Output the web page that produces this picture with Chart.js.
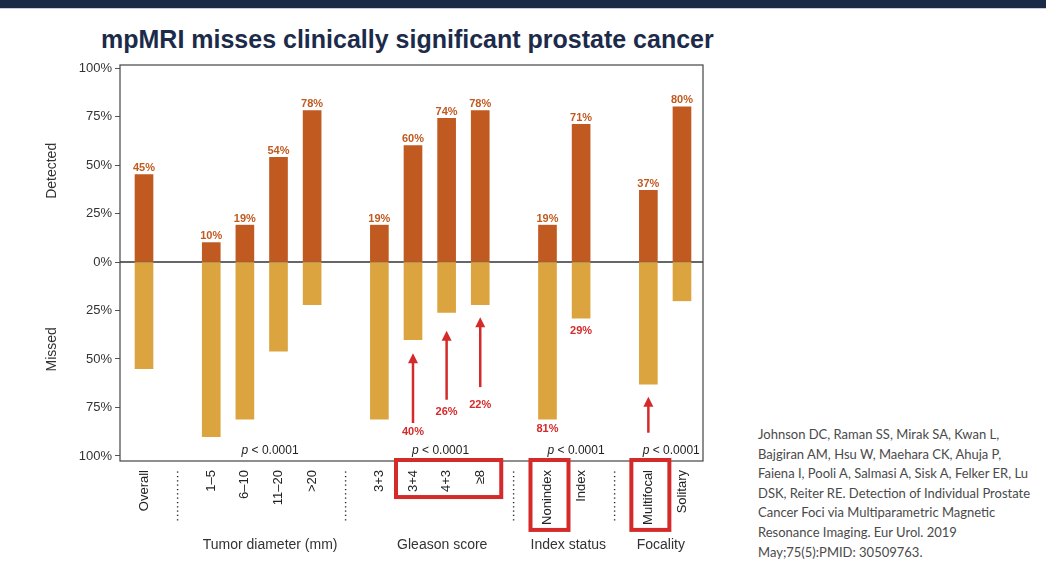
<!DOCTYPE html>
<html>
<head>
<meta charset="utf-8">
<script src="https://cdn.jsdelivr.net/npm/chart.js@4/dist/chart.umd.min.js"></script>
<style>
  html, body { margin: 0; padding: 0; background: #fff; }
  body { width: 1046px; height: 566px; position: relative; overflow: hidden; font-family: "Liberation Sans", Arial, sans-serif; }
  .topbar { position: absolute; left: 0; top: 0; width: 1046px; height: 8px; background: #1b2a47; border-bottom: 1px solid #c9ced8; }
  h1 { position: absolute; left: 101px; top: 25px; margin: 0; font-size: 25px; font-weight: bold; color: #1c2b4a; white-space: nowrap; }
  .wrap { position: absolute; left: 0; top: 0; width: 720px; height: 566px; }
  .ref { position: absolute; left: 758px; top: 425px; font-family: Lato, "Open Sans", sans-serif; font-size: 13px; line-height: 19.6px; color: #4a4a4a; white-space: nowrap; }
</style>
</head>
<body>
<div class="topbar"></div>
<h1>mpMRI misses clinically significant prostate cancer</h1>
<div class="wrap"><canvas id="chart"></canvas></div>
<div class="ref">
Johnson DC, Raman SS, Mirak SA, Kwan L,<br>
Bajgiran AM, Hsu W, Maehara CK, Ahuja P,<br>
Faiena I, Pooli A, Salmasi A, Sisk A, Felker ER, Lu<br>
DSK, Reiter RE. Detection of Individual Prostate<br>
Cancer Foci via Multiparametric Magnetic<br>
Resonance Imaging. Eur Urol. 2019<br>
May;75(5):PMID: 30509763.
</div>
<script>
// empty strings are the dotted separators between groups
const categories = ['Overall', '', '1–5', '6–10', '11–20', '>20', '', '3+3', '3+4', '4+3', '≥8', '', 'Nonindex', 'Index', '', 'Multifocal', 'Solitary'];
const detected = [45, null, 10, 19, 54, 78, null, 19, 60, 74, 78, null, 19, 71, null, 37, 80];
const missed   = [55, null, 90, 81, 46, 22, null, 81, 40, 26, 22, null, 81, 29, null, 63, 20];
const yTicks = [100, 75, 50, 25, 0, -25, -50, -75, -100];

const groupTitles = ['Tumor diameter (mm)', 'Gleason score', 'Index status', 'Focality'];
const pValues = ['0.0001', '0.0001', '0.0001', '0.0001'];
const highlighted = [[8, 10], [12, 12], [15, 15]];

// red notes under the missed bars
const noteIndex = [8, 9, 10, 12, 13, 15];
const noteText  = ['40%', '26%', '22%', '81%', '29%', ''];

const DET = '#c05a20';
const MIS = '#dba43f';
const RED = '#d42a2a';

// where the annotations sit (axis units), kept apart from the data
const layoutNotes = {
  labelY: [-87.6, -77.3, -73.7, -86.1, -35.6, null],
  arrowTip: [-47, -35.5, -28.5, null, null, -69.5],
  arrowTail: [-83, -71, -64.5, null, null, -88],
  groupX: [3.75, 8.87, 12.62, 15.37],
  pX: [3.75, 8.82, 12.85, 15.68]
};

const SEP = '············';

const overlay = {
  id: 'overlay',
  beforeDatasetsDraw(chart) {
    const { ctx, chartArea: a, scales: { y } } = chart;
    const y0 = y.getPixelForValue(0);
    ctx.save();
    ctx.strokeStyle = '#333';
    ctx.lineWidth = 1.5;
    ctx.beginPath();
    ctx.moveTo(a.left, y0);
    ctx.lineTo(a.right, y0);
    ctx.stroke();
    ctx.restore();
  },
  afterDatasetsDraw(chart) {
    const { ctx, chartArea: a, scales: { x, y } } = chart;
    ctx.save();

    // frame
    ctx.strokeStyle = '#444';
    ctx.lineWidth = 1.2;
    ctx.strokeRect(a.left, a.top, a.right - a.left, a.bottom - a.top);

    // detected values above bars
    ctx.font = 'bold 11px "Liberation Sans", Arial';
    ctx.fillStyle = DET;
    ctx.textAlign = 'center';
    ctx.textBaseline = 'bottom';
    chart.getDatasetMeta(0).data.forEach((bar, k) => {
      const v = chart.data.datasets[0].data[k].y;
      ctx.fillText(v + '%', bar.x, bar.y - 1);
    });

    // arrows and red notes
    ctx.strokeStyle = RED;
    ctx.fillStyle = RED;
    ctx.lineWidth = 2.5;
    noteIndex.forEach((ci, k) => {
      const px = x.getPixelForValue(ci);
      const tip = layoutNotes.arrowTip[k];
      if (tip != null) {
        const ty = y.getPixelForValue(tip);
        const by = y.getPixelForValue(layoutNotes.arrowTail[k]);
        ctx.beginPath();
        ctx.moveTo(px, by);
        ctx.lineTo(px, ty + 8);
        ctx.stroke();
        ctx.beginPath();
        ctx.moveTo(px, ty);
        ctx.lineTo(px - 5, ty + 10);
        ctx.lineTo(px + 5, ty + 10);
        ctx.closePath();
        ctx.fill();
      }
      if (noteText[k]) {
        ctx.textBaseline = 'middle';
        ctx.fillText(noteText[k], px, y.getPixelForValue(layoutNotes.labelY[k]));
      }
    });

    // p values
    ctx.fillStyle = '#222';
    ctx.textBaseline = 'middle';
    pValues.forEach((p, k) => {
      const cx = x.getPixelForValue(layoutNotes.pX[k]);
      ctx.font = 'italic 12px "Liberation Sans", Arial';
      const w1 = ctx.measureText('p').width;
      ctx.font = '12px "Liberation Sans", Arial';
      const rest = ' < ' + p;
      const w2 = ctx.measureText(rest).width;
      const sx = cx - (w1 + w2) / 2;
      ctx.textAlign = 'left';
      ctx.font = 'italic 12px "Liberation Sans", Arial';
      ctx.fillText('p', sx, a.bottom - 10);
      ctx.font = '12px "Liberation Sans", Arial';
      ctx.fillText(rest, sx + w1, a.bottom - 10);
    });
    ctx.restore();
  },
  afterDraw(chart) {
    const { ctx, chartArea: a, scales: { x, y } } = chart;
    ctx.save();

    // axis titles for each half
    ctx.fillStyle = '#333';
    ctx.font = '14px "Liberation Sans", Arial';
    ctx.textAlign = 'center';
    ctx.textBaseline = 'middle';
    [['Detected', 47], ['Missed', -45]].forEach(([t, v]) => {
      ctx.save();
      ctx.translate(52, y.getPixelForValue(v));
      ctx.rotate(-Math.PI / 2);
      ctx.fillText(t, 0, 0);
      ctx.restore();
    });

    // group titles under the rotated labels
    groupTitles.forEach((t, k) => {
      ctx.fillText(t, x.getPixelForValue(layoutNotes.groupX[k]), 545);
    });

    // red boxes round the highlighted labels
    ctx.font = '13px "Liberation Sans", Arial';
    ctx.strokeStyle = RED;
    ctx.lineWidth = 4;
    highlighted.forEach(([i0, i1]) => {
      let longest = 0;
      for (let i = i0; i <= i1; i++) longest = Math.max(longest, ctx.measureText(categories[i]).width);
      const l = x.getPixelForValue(i0) - 17;
      const r = x.getPixelForValue(i1) + 21;
      const t = a.bottom - 1;
      const b = a.bottom + 6 + longest + 8;
      ctx.strokeRect(l, t, r - l, b - t);
    });
    ctx.restore();
  }
};

const detPoints = categories.map((c, i) => ({ x: i, y: detected[i] })).filter(p => p.y != null);
const misPoints = categories.map((c, i) => ({ x: i, y: missed[i] == null ? null : -missed[i] })).filter(p => p.y != null);

new Chart(document.getElementById('chart'), {
  type: 'bar',
  data: {
    datasets: [
      { label: 'Detected', data: detPoints, backgroundColor: DET, barThickness: 18, grouped: false },
      { label: 'Missed', data: misPoints, backgroundColor: MIS, barThickness: 18, grouped: false }
    ]
  },
  options: {
    responsive: true,
    maintainAspectRatio: false,
    animation: false,
    layout: { padding: { left: 60, top: 65, right: 17, bottom: 5 } },
    plugins: { legend: { display: false }, tooltip: { enabled: false } },
    scales: {
      x: {
        type: 'linear',
        offset: false,
        min: -0.714,
        max: 16.625,
        afterFit(s) { s.height = 100; },
        afterBuildTicks(s) { s.ticks = categories.map((c, i) => ({ value: i })); },
        grid: { display: false, offset: false },
        border: { display: false },
        ticks: {
          autoSkip: false,
          minRotation: 90,
          maxRotation: 90,
          padding: 1,
          color: '#222',
          font: { family: '"Liberation Sans", Arial', size: 13 },
          callback: v => categories[v] || SEP
        }
      },
      y: {
        min: -102.58,
        max: 101.55,
        afterFit(s) { s.width = 60; },
        afterBuildTicks(s) { s.ticks = yTicks.map(v => ({ value: v })); },
        grid: { drawOnChartArea: false, tickLength: 5, tickColor: '#555' },
        border: { display: false },
        ticks: {
          padding: 3,
          color: '#333',
          font: { family: '"Liberation Sans", Arial', size: 13 },
          callback: v => Math.abs(v) + '%'
        }
      }
    }
  },
  plugins: [overlay]
});
</script>
</body>
</html>
